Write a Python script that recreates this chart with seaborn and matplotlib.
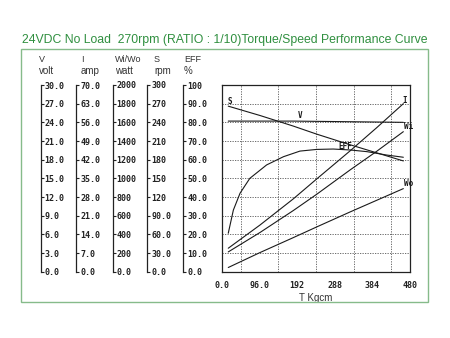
import numpy as np
import pandas as pd
import matplotlib
matplotlib.use("Agg")
import matplotlib.pyplot as plt
from matplotlib.patches import Rectangle
import seaborn as sns

# ---- data -------------------------------------------------------------
torque = [16, 97, 182, 242, 327, 395, 463]          # T (kg-cm)
current = [8.8, 17.5, 27.3, 34.8, 45.3, 54.0, 63.0]  # I (A)
watt_in = [212, 420, 655, 830, 1090, 1290, 1500]    # Wi (W)
watt_out = [45, 205, 365, 480, 640, 765, 890]       # Wo (W)
speed = [266, 251, 234, 221, 204, 191, 178]         # S (rpm)

volt_torque = [16, 182, 327, 463]
voltage = [24.2, 24.2, 24.1, 24.0]                  # V (volt)

eff_torque = [16, 29, 46, 71, 114, 157, 199, 242, 284, 327, 370, 420, 463]
efficiency = [20.6, 33.0, 42.0, 50.0, 57.2, 61.6, 64.6, 65.5, 65.7, 65.2,
              64.3, 62.5, 61.3]                     # EFF (%)

x_ticks = [0, 96, 192, 288, 384, 480]
x_tick_labels = ["0.0", "96.0", "192", "288", "384", "480"]

scale_headers = [("V", "volt"), ("I", "amp"), ("Wi/Wo", "watt"), ("S", "rpm"), ("EFF", "%")]
scale_max = [30, 70, 2000, 300, 100]
scale_labels = [
    ["30.0", "27.0", "24.0", "21.0", "18.0", "15.0", "12.0", "9.0", "6.0", "3.0", "0.0"],
    ["70.0", "63.0", "56.0", "49.0", "42.0", "35.0", "28.0", "21.0", "14.0", "7.0", "0.0"],
    ["2000", "1800", "1600", "1400", "1200", "1000", "800", "600", "400", "200", "0.0"],
    ["300", "270", "240", "210", "180", "150", "120", "90.0", "60.0", "30.0", "0.0"],
    ["100", "90.0", "80.0", "70.0", "60.0", "50.0", "40.0", "30.0", "20.0", "10.0", "0.0"],
]

title = "24VDC No Load  270rpm (RATIO : 1/10)Torque/Speed Performance Curve"

# ---- figure -----------------------------------------------------------
sns.set_style("white")
plt.rcParams["font.family"] = ["DejaVu Sans"]
W, H = 450, 338
fig = plt.figure(figsize=(W / 100, H / 100), dpi=100)

def fx(px):
    return px / W

def fy(py):
    return 1 - py / H

mono = dict(family="DejaVu Sans Mono", weight="bold")
sans = "Liberation Sans"
green = "#2f8f3f"

# outer frame and title
fig.patches.append(Rectangle((fx(21), fy(302)), fx(428) - fx(21), fy(49) - fy(302),
                             transform=fig.transFigure, fill=False,
                             edgecolor="#86bb8a", linewidth=1.0))
fig.text(fx(22), fy(40), title, color=green, fontsize=8.8, family=sans,
         ha="left", va="center")

# plot area
left, right, top, bottom = 222, 410, 85, 271.7
rect = [fx(left), fy(bottom), fx(right) - fx(left), fy(top) - fy(bottom)]
ax = fig.add_axes(rect)
ax.set_xlim(0, 480)
ax.set_ylim(0, 30)
ax.set_xticks(x_ticks)
ax.set_xticklabels(x_tick_labels, fontsize=6, **mono)
ax.set_xticks(np.arange(0, 481, 48), minor=True)
ax.set_yticks(np.arange(0, 31, 3))
ax.tick_params(axis="x", which="both", length=0, pad=7, colors="#222222")
ax.tick_params(axis="y", which="both", length=0, labelleft=False)
ax.grid(True, which="minor", axis="x", color="#555555", linestyle=(0, (1.5, 1.5)), linewidth=0.6)
ax.grid(True, which="major", axis="y", color="#555555", linestyle=(0, (1.5, 1.5)), linewidth=0.6)
ax.grid(False, which="major", axis="x")
for s in ax.spines.values():
    s.set_color("#222222")
    s.set_linewidth(0.9)
ax.set_xlabel("T Kgcm", fontsize=7, family=sans, labelpad=2, color="#333333")

def overlay(ymax):
    a = fig.add_axes(rect, sharex=ax)
    a.set_ylim(0, ymax)
    a.patch.set_alpha(0)
    a.axis("off")
    return a

line_kw = dict(color="#1a1a1a", linewidth=0.8)

ax_v = overlay(30)
sns.lineplot(data=pd.DataFrame({"T": volt_torque, "V": voltage}), x="T", y="V", ax=ax_v, **line_kw)
ax_i = overlay(70)
sns.lineplot(data=pd.DataFrame({"T": torque, "I": current}), x="T", y="I", ax=ax_i, **line_kw)
ax_w = overlay(2000)
sns.lineplot(data=pd.DataFrame({"T": torque, "Wi": watt_in}), x="T", y="Wi", ax=ax_w, **line_kw)
sns.lineplot(data=pd.DataFrame({"T": torque, "Wo": watt_out}), x="T", y="Wo", ax=ax_w, **line_kw)
ax_s = overlay(300)
sns.lineplot(data=pd.DataFrame({"T": torque, "S": speed}), x="T", y="S", ax=ax_s, **line_kw)
ax_e = overlay(100)
sns.lineplot(data=pd.DataFrame({"T": eff_torque, "EFF": efficiency}), x="T", y="EFF", ax=ax_e, **line_kw)
ax.set_xlim(0, 480)

lab = dict(fontsize=5.5, color="#1a1a1a", ha="center", va="center", **mono)
ax_s.text(19, 273, "S", **lab)
ax_v.text(199, 25.1, "V", **lab)
ax_i.text(467, 64.1, "I", **lab)
ax_w.text(477, 1553, "Wi", **lab)
ax_w.text(477, 950, "Wo", **lab)
ax_e.text(314, 67.3, "EFF", **lab)

# scale columns at the left
col_line_x = [40.5, 76, 112.5, 147, 183]
col_head_x = [39, 81, 115, 154, 184]
for lx, hx, (name, unit), ymax, labels in zip(col_line_x, col_head_x, scale_headers,
                                              scale_max, scale_labels):
    ca = fig.add_axes([fx(lx), fy(bottom), 0.0001, fy(top) - fy(bottom)])
    ca.set_ylim(0, ymax)
    ca.set_xticks([])
    ca.set_yticks(np.linspace(ymax, 0, 11))
    ca.set_yticklabels(labels, fontsize=6, color="#222222", **mono)
    ca.tick_params(axis="y", left=False, right=True, labelleft=False, labelright=True,
                   direction="out", length=2.5, width=0.8, pad=0.5, colors="#222222")
    for k in ("top", "bottom", "right"):
        ca.spines[k].set_visible(False)
    ca.spines["left"].set_color("#222222")
    ca.spines["left"].set_linewidth(0.9)
    ca.patch.set_alpha(0)
    fig.text(fx(hx), fy(60), name, fontsize=6.5, family=sans, color="#333333", ha="left", va="center")
    fig.text(fx(hx), fy(70.5), unit, fontsize=7, family=sans, color="#333333", ha="left", va="center")

fig.savefig("out.png", dpi=100)
